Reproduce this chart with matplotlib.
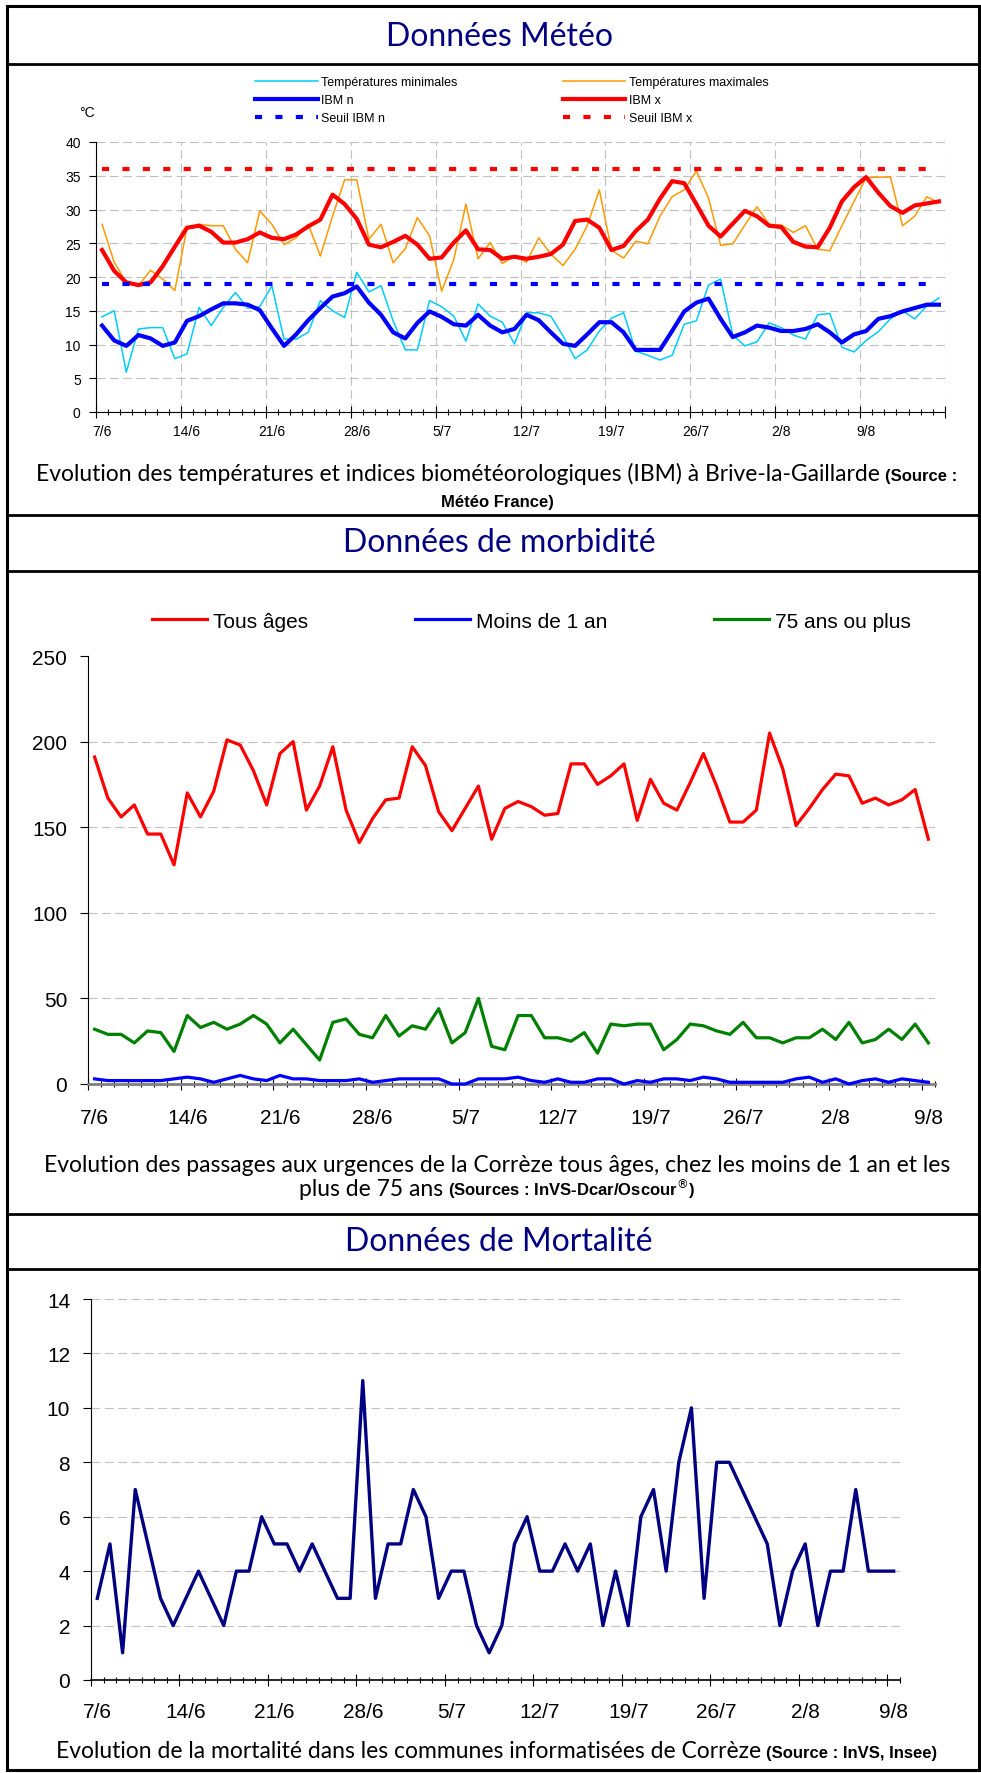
import numpy as np
import matplotlib
matplotlib.use("Agg")
import matplotlib.pyplot as plt
from matplotlib import font_manager
from matplotlib.transforms import offset_copy

# ---------------- données ----------------
week_labels = ['7/6', '14/6', '21/6', '28/6', '5/7', '12/7', '19/7', '26/7', '2/8', '9/8']

# Météo : du 7/6 au 15/8
t_min = [14.1, 15.0, 5.9, 12.3, 12.5, 12.5, 7.9, 8.6, 15.5, 12.8,
         15.5, 17.7, 15.4, 15.6, 18.7, 10.8, 10.8, 11.8, 16.5, 15.0,
         14.0, 20.7, 17.8, 18.7, 13.5, 9.2, 9.2, 16.5, 15.6, 14.2,
         10.5, 16.0, 14.2, 13.3, 10.1, 14.7, 14.7, 14.2, 11.3, 7.9,
         9.2, 12.0, 13.9, 14.7, 9.0, 8.4, 7.7, 8.4, 13.0, 13.5,
         18.8, 19.7, 11.4, 9.8, 10.4, 13.2, 12.5, 11.4, 10.8, 14.4,
         14.6, 9.6, 8.9, 10.6, 11.9, 13.8, 15.0, 13.8, 15.7, 16.9]
t_max = [27.8, 22.2, 19.2, 18.7, 21.0, 19.7, 18.0, 27.3, 27.8, 27.6,
         27.6, 24.1, 22.1, 29.8, 27.8, 24.8, 25.8, 27.8, 23.1, 29.0,
         34.4, 34.4, 25.6, 27.8, 22.1, 24.2, 28.8, 26.1, 17.9, 22.6,
         30.8, 22.7, 25.1, 22.0, 23.1, 22.2, 25.8, 23.4, 21.7, 24.1,
         27.6, 32.9, 24.0, 22.8, 25.3, 24.9, 29.0, 31.9, 32.9, 35.7,
         31.7, 24.7, 24.9, 27.7, 30.4, 27.8, 27.7, 26.6, 27.6, 24.1,
         23.9, 27.6, 31.2, 34.7, 34.8, 34.8, 27.6, 29.0, 31.9, 31.0]
ibm_n = [12.8, 10.6, 9.8, 11.4, 10.9, 9.8, 10.3, 13.5, 14.2, 15.2,
         16.1, 16.1, 15.9, 15.1, 12.4, 9.8, 11.5, 13.6, 15.4, 17.1,
         17.6, 18.6, 16.2, 14.4, 11.8, 10.9, 13.2, 14.9, 14.1, 13.0,
         12.8, 14.4, 12.8, 11.8, 12.3, 14.4, 13.6, 11.8, 10.1, 9.8,
         11.5, 13.3, 13.3, 11.8, 9.2, 9.2, 9.2, 12.0, 14.9, 16.2,
         16.8, 13.8, 11.1, 11.8, 12.8, 12.5, 12.0, 12.0, 12.3, 13.0,
         11.8, 10.3, 11.5, 12.0, 13.8, 14.2, 14.9, 15.4, 15.9, 15.9]
ibm_x = [24.0, 20.9, 19.2, 18.8, 19.2, 21.6, 24.5, 27.3, 27.6, 26.7,
         25.1, 25.1, 25.6, 26.6, 25.8, 25.6, 26.3, 27.5, 28.5, 32.2,
         30.8, 28.6, 24.8, 24.4, 25.2, 26.1, 24.8, 22.7, 22.9, 25.1,
         26.9, 24.1, 24.0, 22.7, 23.0, 22.7, 23.0, 23.4, 24.8, 28.3,
         28.5, 27.3, 24.0, 24.6, 26.8, 28.5, 31.6, 34.2, 33.9, 30.8,
         27.6, 26.0, 27.9, 29.8, 29.0, 27.6, 27.4, 25.2, 24.5, 24.4,
         27.3, 31.2, 33.3, 34.8, 32.5, 30.5, 29.5, 30.6, 30.9, 31.2]
seuil_ibm_n = 19
seuil_ibm_x = 36

# Passages aux urgences : du 7/6 au 9/8
urg_tous = [191, 167, 156, 163, 146, 146, 128, 170, 156, 171,
            201, 198, 183, 163, 193, 200, 160, 174, 197, 160,
            141, 155, 166, 167, 197, 186, 159, 148, 161, 174,
            143, 161, 165, 162, 157, 158, 187, 187, 175, 180,
            187, 154, 178, 164, 160, 176, 193, 174, 153, 153,
            160, 205, 184, 151, 161, 172, 181, 180, 164, 167,
            163, 166, 172, 143]
urg_moins1 = [3, 2, 2, 2, 2, 2, 3, 4, 3, 1, 3, 5, 3, 2, 5, 3, 3, 2, 2, 2,
              3, 1, 2, 3, 3, 3, 3, 0, 0, 3, 3, 3, 4, 2, 1, 3, 1, 1, 3, 3,
              0, 2, 1, 3, 3, 2, 4, 3, 1, 1, 1, 1, 1, 3, 4, 1, 3, 0, 2, 3,
              1, 3, 2, 1]
urg_75plus = [32, 29, 29, 24, 31, 30, 19, 40, 33, 36, 32, 35, 40, 35, 24, 32, 23, 14, 36, 38,
              29, 27, 40, 28, 34, 32, 44, 24, 30, 50, 22, 20, 40, 40, 27, 27, 25, 30, 18, 35,
              34, 35, 35, 20, 26, 35, 34, 31, 29, 36, 27, 27, 24, 27, 27, 32, 26, 36, 24, 26,
              32, 26, 35, 24]

# Mortalité : du 7/6 au 9/8
deces = [3, 5, 1, 7, 5, 3, 2, 3, 4, 3, 2, 4, 4, 6, 5, 5, 4, 5, 4, 3,
         3, 11, 3, 5, 5, 7, 6, 3, 4, 4, 2, 1, 2, 5, 6, 4, 4, 5, 4, 5,
         2, 4, 2, 6, 7, 4, 8, 10, 3, 8, 8, 7, 6, 5, 2, 4, 5, 2, 4, 4,
         7, 4, 4, 4]

# ---------------- polices ----------------
available = {f.name for f in font_manager.fontManager.ttflist}
CHART_FONT = 'Liberation Sans'
TEXT_FONT = 'Lato'
NARROW_FONT = 'Liberation Sans Narrow' if 'Liberation Sans Narrow' in available else 'Liberation Sans'
plt.rcParams['font.family'] = [CHART_FONT, 'DejaVu Sans']

NAVY = '#000080'
GRID = dict(color='#C0C0C0', linestyle=(0, (8, 4)), linewidth=0.8)

W, H = 981, 1774
fig = plt.figure(figsize=(W / 100, H / 100), dpi=100)

# fond en coordonnées pixels
bg = fig.add_axes([0, 0, 1, 1], zorder=0)
bg.set_xlim(0, W)
bg.set_ylim(H, 0)
bg.axis('off')

# tableau
bg.plot([7, 979, 979, 7, 7], [7, 7, 1771, 1771, 7], color='black', lw=2.2,
        solid_joinstyle='miter')
for yl in [65, 516, 572, 1215, 1270]:
    bg.plot([7, 979], [yl, yl], color='black', lw=2.0)

# titres
for yb, s in [(46, 'Données Météo'), (552, 'Données de morbidité'), (1251, 'Données de Mortalité')]:
    bg.text(499, yb, s, ha='center', va='baseline', color=NAVY, fontsize=23,
            family=[TEXT_FONT, 'DejaVu Sans'])

REG = dict(family=[TEXT_FONT, 'DejaVu Sans'], fontsize=16.5)
BOLD = dict(family=[NARROW_FONT, 'DejaVu Sans'], fontsize=12, fontweight='bold')


def caption_line(y, parts, xc=497, gap=5):
    renderer = fig.canvas.get_renderer()
    items = []
    for s, style in parts:
        t = bg.text(0, y, s, ha='left', va='baseline', **style)
        items.append((t, t.get_window_extent(renderer).width))
    total = sum(w for _, w in items) + gap * (len(items) - 1)
    x = xc - total / 2
    for t, w in items:
        t.set_x(x)
        x += w + gap


caption_line(481, [("Evolution des températures et indices biométéorologiques (IBM) à Brive-la-Gaillarde", REG),
                   ("(Source :", BOLD)])
caption_line(507, [("Météo France)", BOLD)])
caption_line(1172, [("Evolution des passages aux urgences de la Corrèze tous âges, chez les moins de 1 an et les", REG)])
caption_line(1196, [("plus de 75 ans", REG), ("(Sources : InVS-Dcar/Oscour$^{®}$)", BOLD)])
caption_line(1758, [("Evolution de la mortalité dans les communes informatisées de Corrèze", REG),
                    ("(Source : InVS, Insee)", BOLD)])


def make_axes(x0, x1, ytop, ybot):
    ax = fig.add_axes([x0 / W, 1 - ybot / H, (x1 - x0) / W, (ybot - ytop) / H], zorder=1)
    ax.patch.set_alpha(0)
    for side in ['top', 'right']:
        ax.spines[side].set_visible(False)
    return ax


def week_axis(ax, n, label_dy, size):
    ax.set_xlim(-0.5, n - 0.5)
    ax.set_xticks(np.arange(-0.5, n, 7))
    ax.set_xticks(np.arange(-0.5, n, 1), minor=True)
    ax.set_xticklabels([])
    ax.tick_params(axis='x', which='major', direction='inout', length=9, width=0.8)
    ax.tick_params(axis='x', which='minor', direction='inout', length=5, width=0.8)
    trans = offset_copy(ax.get_xaxis_transform(), fig=fig, y=-label_dy, units='dots')
    for k, lab in enumerate(week_labels):
        ax.text(7 * k, 0, lab, transform=trans, ha='center', va='center', fontsize=size)


# ---------------- graphique 1 : météo ----------------
ax1 = make_axes(96, 945, 143, 413)
n1 = len(t_min)
x1 = np.arange(n1)
dots = (0, (1.7, 3.2))
l_tmin, = ax1.plot(x1, t_min, color='#00CCFF', lw=1.1, label='Températures minimales', zorder=3)
l_tmax, = ax1.plot(x1, t_max, color='#FF9900', lw=1.1, label='Températures maximales', zorder=3)
l_ibmn, = ax1.plot(x1, ibm_n, color='#0000FF', lw=3, label='IBM n', zorder=4)
l_ibmx, = ax1.plot(x1, ibm_x, color='#FF0000', lw=3, label='IBM x', zorder=4)
l_sn, = ax1.plot(x1, [seuil_ibm_n] * n1, color='#0000FF', lw=3, ls=dots, label='Seuil IBM n', zorder=5)
l_sx, = ax1.plot(x1, [seuil_ibm_x] * n1, color='#FF0000', lw=3, ls=dots, label='Seuil IBM x', zorder=5)
ax1.set_ylim(0, 40)
ax1.set_yticks(np.arange(0, 41, 5))
ax1.tick_params(axis='y', length=5, width=0.8, labelsize=10, pad=6)
week_axis(ax1, n1, 19, 10)
ax1.grid(True, which='major', **GRID)
ax1.spines['left'].set_linewidth(0.8)
ax1.spines['bottom'].set_linewidth(0.8)
handles = [l_tmin, l_ibmn, l_sn, l_tmax, l_ibmx, l_sx]
ax1.legend(handles, [h.get_label() for h in handles], ncol=2, loc='upper left',
           bbox_to_anchor=(255 / W, 1 - 77 / H), bbox_transform=fig.transFigure,
           frameon=False, fontsize=9, handlelength=5.0, handletextpad=0.3,
           columnspacing=8.4, labelspacing=0.5, borderpad=0, borderaxespad=0)
bg.text(87, 113, '°C', ha='center', va='center', fontsize=10)

# ---------------- graphique 2 : morbidité ----------------
ax2 = make_axes(88, 935, 657, 1085)
n2 = len(urg_tous)
x2 = np.arange(n2)
ax2.plot(x2, urg_tous, color='#FF0000', lw=2.3, label='Tous âges', zorder=3, clip_on=False)
ax2.plot(x2, urg_moins1, color='#0000FF', lw=2.3, label='Moins de 1 an', zorder=3, clip_on=False)
ax2.plot(x2, urg_75plus, color='#008000', lw=2.3, label='75 ans ou plus', zorder=3, clip_on=False)
ax2.set_ylim(0, 250)
ax2.set_yticks(np.arange(0, 251, 50))
ax2.tick_params(axis='y', length=6, width=0.8, labelsize=15, pad=9)
week_axis(ax2, n2, 33, 15)
ax2.grid(True, axis='y', **GRID)
ax2.yaxis.get_gridlines()[-1].set_visible(False)
ax2.spines['left'].set_linewidth(0.8)
ax2.spines['bottom'].set_color('#808080')
ax2.spines['bottom'].set_linewidth(2)
ax2.legend(ncol=3, loc='center left', bbox_to_anchor=(152 / W, 1 - 622 / H),
           bbox_transform=fig.transFigure, frameon=False, fontsize=15,
           handlelength=2.65, handletextpad=0.3, columnspacing=5.1,
           borderpad=0, borderaxespad=0)

# ---------------- graphique 3 : mortalité ----------------
ax3 = make_axes(91, 900, 1300, 1681)
n3 = len(deces)
x3 = np.arange(n3)
ax3.plot(x3, deces, color=NAVY, lw=2.4, zorder=3)
ax3.set_ylim(0, 14)
ax3.set_yticks(np.arange(0, 15, 2))
ax3.tick_params(axis='y', length=6, width=0.8, labelsize=15, pad=9)
week_axis(ax3, n3, 32, 15)
ax3.grid(True, axis='y', **GRID)
ax3.spines['left'].set_linewidth(0.8)
ax3.spines['bottom'].set_linewidth(1.2)

fig.savefig('out.png', dpi=100)
